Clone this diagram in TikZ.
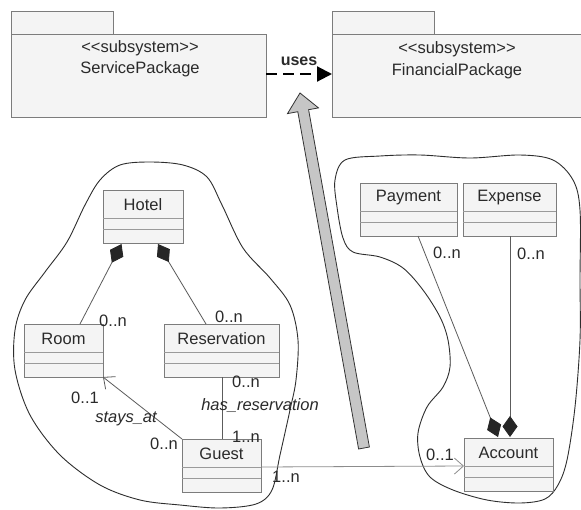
\documentclass[tikz,border=0pt]{standalone}
\usepackage{fontspec}
\setmainfont{Liberation Sans}
\usetikzlibrary{arrows.meta,calc}
\definecolor{bord}{HTML}{7C7C7C}
\definecolor{boxfill}{HTML}{F4F4F4}
\definecolor{txtc}{HTML}{2A2A2A}
\definecolor{conn}{HTML}{5C5C5C}
\definecolor{cmpc}{HTML}{9A9A9A}
\definecolor{blobc}{HTML}{2E2E2E}
\definecolor{garrow}{HTML}{C6C6C6}
\tikzset{
  lbl/.style={text=txtc, font=\fontsize{16.5}{18}\selectfont, inner sep=0pt},
  ilbl/.style={lbl, font=\fontsize{16.5}{18}\selectfont\itshape},
  clsbox/.style={draw=bord, fill=boxfill, line width=0.9pt, inner sep=0pt, outer sep=0pt},
  pkgbox/.style={draw=bord, fill=boxfill, line width=0.9pt, inner sep=0pt, outer sep=0pt, anchor=north west},
  cmp/.style={draw=cmpc, line width=0.8pt},
  assoc/.style={draw=conn, line width=0.8pt},
  blob/.style={draw=blobc, line width=0.9pt},
  dtip/.tip={Diamond[length=21pt,width=15pt,fill=black!85,color=black!85]},
  comp/.style={assoc, dtip-},
}
\newcommand\umlclass[5]{%
  \node[clsbox, minimum width={(#4)-(#2)}, minimum height=53, anchor=north west] (#1) at (#2,#3) {};
  \node[lbl] (#1-t) at ($(#1.north)+(0,14.5)$) {#5};
  \draw[cmp] ($(#1.north west)+(0,28)$) -- ($(#1.north east)+(0,28)$);
  \draw[cmp] ($(#1.north west)+(0,39)$) -- ($(#1.north east)+(0,39)$);
}
\begin{document}
\begin{tikzpicture}[x=1pt,y=-1pt]
\useasboundingbox (0,0) rectangle (581,509);
\fill[white] (0,0) rectangle (581,509);

% packages
\node[pkgbox, minimum width=255, minimum height=83] (svc) at (11,34) {};
\node[pkgbox, minimum width=102, minimum height=23, anchor=south west] (svctab) at (svc.north west) {};
\node[lbl] (svcst) at (140,48) {<\kern0pt<subsystem>\kern0pt>};
\node[lbl] (svcnm) at (140,69.5) {ServicePackage};

\node[pkgbox, minimum width=260, minimum height=83] (fin) at (332,34) {};
\node[pkgbox, minimum width=102, minimum height=23, anchor=south west] (fintab) at (fin.north west) {};
\node[lbl] (finst) at (457,49) {<\kern0pt<subsystem>\kern0pt>};
\node[lbl] (finnm) at (457,71) {FinancialPackage};

\draw[line width=2.2pt, dash pattern=on 11pt off 6pt, -{Triangle[length=15pt,width=15pt]}]
  ($(svc.north east)+(0,40)$) -- node[lbl, font=\fontsize{16}{18}\selectfont\bfseries, above=7pt] (uses) {uses} ($(fin.north west)+(0,40)$);

% blobs
\draw[blob] plot[smooth cycle, tension=0.55] coordinates {
 (150,162) (183,165) (207,177) (222,205) (243,248) (270,278) (290,305) (298,340)
 (296,380) (290,410) (280,455) (272,490) (256,504) (220,508) (180,505) (140,500)
 (100,485) (60,455) (30,415) (15,370) (15,330) (25,300) (45,272) (67,242)
 (85,205) (100,180) (120,165)};
\draw[blob] plot[smooth cycle, tension=0.55] coordinates {
 (345,160) (380,156) (420,155) (470,158) (520,155) (553,160) (573,180) (580,210)
 (580,280) (580,340) (575,407) (567,460) (558,485) (545,499) (520,503) (487,500)
 (453,490) (430,477) (420,457) (418,433) (427,407) (443,387) (450,367) (448,340)
 (440,317) (423,290) (403,268) (380,257) (353,252) (343,238) (337,207) (335,180)};

% gray arrow
\draw[fill=garrow, draw=black!80, line width=0.8pt, line join=miter]
  (358.6,449.0) -- (297.8,111.7) -- (287.5,113.6) -- (300,93) -- (318.5,107.9)
  -- (308.6,109.7) -- (369.4,447.0) -- cycle;

% classes
\umlclass{hotel}{103}{190}{183}{Hotel}
\umlclass{room}{24}{324}{103}{Room}
\umlclass{res}{164}{324}{279}{Reservation}
\umlclass{guest}{182}{439}{261}{Guest}
\umlclass{pay}{360}{183}{457}{Payment}
\umlclass{exp}{463}{183}{556}{Expense}
\umlclass{acc}{464}{438}{553}{Account}

% connectors
\draw[comp] ($(hotel.south west)+(18.5,1)$) -- ($(room.north west)+(56,0)$);
\draw[comp] ($(hotel.south west)+(55,1)$) -- ($(res.north west)+(42,0)$);
\draw[assoc, -{Straight Barb[length=9pt,width=16pt]}] (guest.north west) -- (room.south east);
\draw[assoc] ($(res.south west)+(58,0)$) -- ($(guest.north west)+(40,0)$);
\draw[assoc, draw=black!45, -{Straight Barb[length=9pt,width=16pt]}] ($(guest.north east)+(0,28)$) -- ($(acc.north west)+(0,28)$);
\draw[assoc, -dtip] ($(pay.south west)+(58,0)$) -- ($(acc.north west)+(34,-1)$);
\draw[assoc, -dtip] ($(exp.south west)+(47,0)$) -- ($(acc.north west)+(46,-1)$);

% labels
\node[lbl] (m1) at (113,321) {0..n};
\node[lbl] (m2) at (229,317) {0..n};
\node[lbl] (m3) at (85,398) {0..1};
\node[ilbl] (sa) at (126,419) {stays\_at};
\node[lbl] (m4) at (164,444) {0..n};
\node[lbl] (m5) at (246,382) {0..n};
\node[ilbl] (hr) at (260,406) {has\_reservation};
\node[lbl] (m6) at (246,437) {1..n};
\node[lbl] (m7) at (286,477) {1..n};
\node[lbl] (m8) at (440,455) {0..1};
\node[lbl] (m9) at (447,253) {0..n};
\node[lbl] (m10) at (531,254) {0..n};
\end{tikzpicture}
\end{document}
